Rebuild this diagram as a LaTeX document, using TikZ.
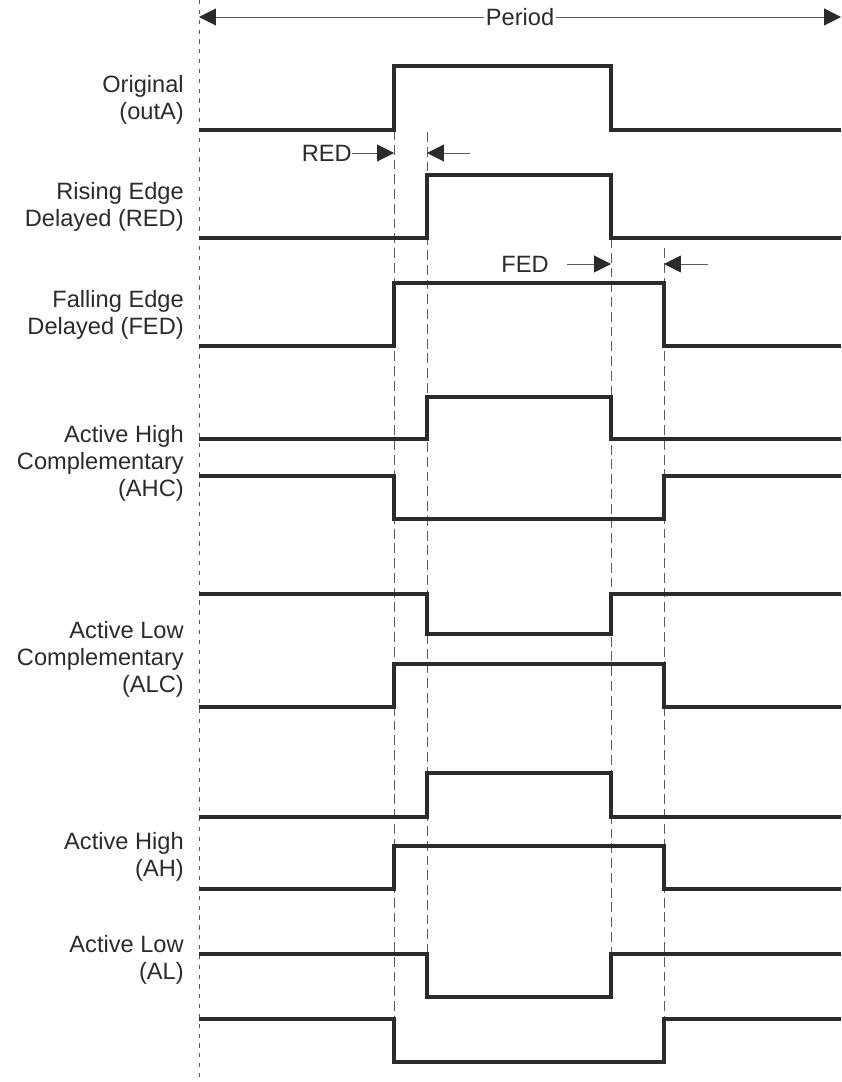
\documentclass[tikz,border=0pt]{standalone}
\usepackage{fontspec}
\setsansfont{Liberation Sans}
\usetikzlibrary{arrows.meta}
\definecolor{wavegray}{HTML}{2B2B2B}
\definecolor{guidegray}{HTML}{5A5A5A}

\begin{document}
\begin{tikzpicture}[
  x=0.025cm, y=-0.025cm,
  lbl/.style={anchor=east, align=right, inner sep=0pt, text=wavegray, font=\fontsize{16.8}{19.2}\selectfont\sffamily},
  wave/.style={line width=2.3pt, color=wavegray, line join=miter},
  guide/.style={line width=0.7pt, color=guidegray, dash pattern=on 7pt off 3.5pt},
  axis/.style={line width=0.7pt, color=guidegray, dash pattern=on 3pt off 4pt},
  dim/.style={line width=0.7pt, color=guidegray, -{Triangle[length=12pt, width=12pt, color=wavegray]}},
]
\useasboundingbox (0,0) rectangle (841,1082);

% Period across the top
\coordinate (pL) at (199,17);
\coordinate (pR) at (841,17);
\draw[dim, {Triangle[length=12pt, width=12pt, color=wavegray]}-{Triangle[length=12pt, width=12pt, color=wavegray]}]
  (pL) -- node[lbl, anchor=center, fill=white, inner sep=1pt] (period) {Period} (pR);

% Time guides: start of period, edges and delayed edges
\draw[axis] (199,0) -- (199,1082);
\draw[guide] (394,130) -- (394,1019);
\draw[guide] (427,132) -- (427,954);
\draw[guide] (611,238) -- (611,954);
\draw[guide] (664,248) -- (664,1019);

% Waveforms: base level / pulse level / first edge / second edge
\foreach \a/\b/\xa/\xb in {130/66/394/611, 238/175/427/611, 346/283/394/664,
                           439/397/427/611, 476/519/394/664,
                           594/634/427/611, 707/664/394/664,
                           817/773/427/611, 889/846/394/664,
                           954/997/427/611, 1019/1062/394/664}
  \draw[wave] (199,\a) -| (\xa,\b) -| (\xb,\a) -- (841,\a);

% Signal names
\node[lbl] (orig) at (184,100) {Original\\(outA)};
\node[lbl] (red) at (184,207) {Rising Edge\\Delayed (RED)};
\node[lbl] (fed) at (184,315) {Falling Edge\\Delayed (FED)};
\node[lbl] (ahc) at (184,463) {Active High\\Complementary\\(AHC)};
\node[lbl] (alc) at (184,659) {Active Low\\Complementary\\(ALC)};
\node[lbl] (ah) at (184,857) {Active High\\(AH)};
\node[lbl] (al) at (184,960) {Active Low\\(AL)};

% RED delay marks
\node[lbl] (redtxt) at (352,153) {RED};
\coordinate (redA) at (394,153);
\coordinate (redB) at (427,153);
\coordinate (redC) at (470,153);
\draw[dim] (redtxt.east) -- (redA);
\draw[dim] (redC) -- (redB);

% FED delay marks
\node[lbl] (fedtxt) at (549,264) {FED};
\coordinate (fedA) at (567,264);
\coordinate (fedB) at (611,264);
\coordinate (fedC) at (664,264);
\coordinate (fedD) at (708,264);
\draw[dim] (fedA) -- (fedB);
\draw[dim] (fedD) -- (fedC);
\end{tikzpicture}
\end{document}
